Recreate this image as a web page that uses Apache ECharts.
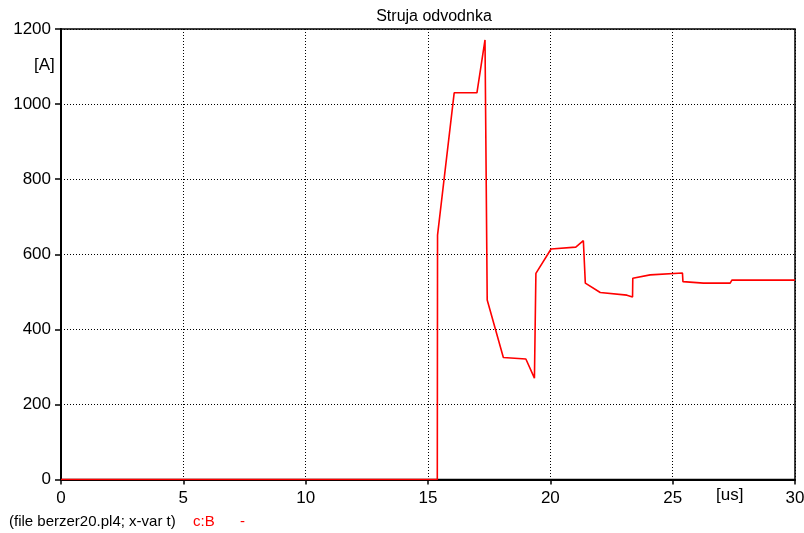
<!DOCTYPE html>
<html><head><meta charset="utf-8">
<script src="https://cdn.jsdelivr.net/npm/echarts@6/dist/echarts.min.js"></script>
<style>html,body{margin:0;padding:0;background:#fff}#c{width:804px;height:533px}</style>
</head><body><div id="c"></div>
<script>
const title = 'Struja odvodnka';
const timeUs = [0, 15.38, 15.39, 16.07, 17.0, 17.33, 17.42, 18.08, 19.0, 19.35, 19.41, 20.03, 21.04, 21.35, 21.43, 22.04, 23.13, 23.36, 23.37, 24.08, 25.40, 25.42, 26.26, 27.35, 27.42, 30];
const currentA = [0, 0, 651, 1030, 1030, 1171, 478, 325, 321, 270, 549, 614, 619, 636, 523, 498, 491, 486, 536, 545, 550, 527, 523, 523, 531, 531];
const xTicks = [0, 5, 10, 15, 20, 25, 30];
const yTicks = [0, 200, 400, 600, 800, 1000, 1200];

const font = 'Liberation Sans, Arial, sans-serif';
const chart = echarts.init(document.getElementById('c'));
chart.setOption({
  animation: false,
  backgroundColor: '#fff',
  title: {text: title, left: 429, top: 4, textAlign: 'center',
    textStyle: {fontFamily: font, fontSize: 16, fontWeight: 'normal', color: '#000'}},
  grid: {left: 61, right: 9, top: 29, bottom: 53.5, show: true, borderColor: '#000', borderWidth: 1.5,
    backgroundColor: 'transparent', containLabel: false, outerBoundsMode: 'none'},
  xAxis: {type: 'value', min: 0, max: 30, interval: 5,
    axisLine: {show: true, lineStyle: {color: '#000', width: 2}},
    axisTick: {show: true, length: 5, lineStyle: {color: '#000', width: 1.5}},
    axisLabel: {fontFamily: font, fontSize: 17, color: '#000', margin: 10,
      formatter: v => xTicks.includes(v) ? String(v) : ''},
    splitLine: {show: true, lineStyle: {color: '#000', type: [1, 2], width: 1}}},
  yAxis: {type: 'value', min: 0, max: 1200, interval: 200,
    axisLine: {show: true, lineStyle: {color: '#000', width: 2}},
    axisTick: {show: true, length: 6, lineStyle: {color: '#000', width: 1.5}},
    axisLabel: {fontFamily: font, fontSize: 17, color: '#000', margin: 10,
      formatter: v => yTicks.includes(v) ? String(v) : ''},
    splitLine: {show: true, lineStyle: {color: '#000', type: [1, 2], width: 1}}},
  series: [{type: 'line', data: timeUs.map((t, i) => [t, currentA[i]]), showSymbol: false,
    lineStyle: {color: '#ff0000', width: 1.6}, itemStyle: {color: '#ff0000'}, z: 5}],
  graphic: [
    {type: 'text', left: 34, top: 57, style: {text: '[A]', fontFamily: font, fontSize: 17, fill: '#000'}},
    {type: 'text', left: 716, top: 487, style: {text: '[us]', fontFamily: font, fontSize: 17, fill: '#000'}},
    {type: 'text', left: 9, top: 514, style: {text: '(file berzer20.pl4; x-var t)', fontFamily: font, fontSize: 15, fill: '#000'}},
    {type: 'text', left: 193, top: 514, style: {text: 'c:B', fontFamily: font, fontSize: 15, fill: '#ff0000'}},
    {type: 'text', left: 240, top: 514, style: {text: '-', fontFamily: font, fontSize: 15, fill: '#ff0000'}}
  ]
});
</script></body></html>
